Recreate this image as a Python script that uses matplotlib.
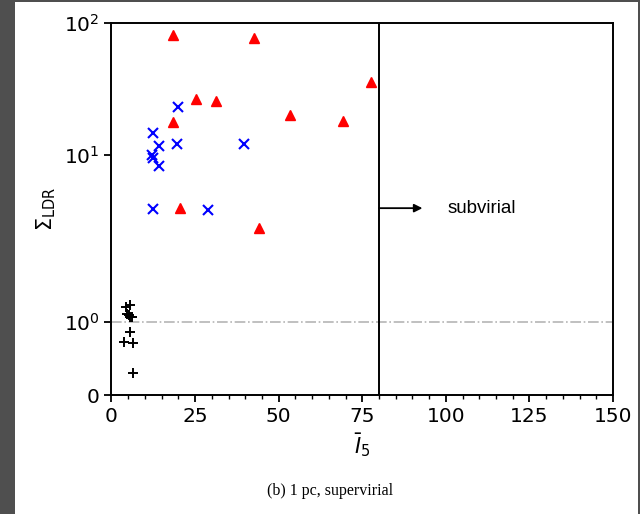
import numpy as np
import matplotlib
matplotlib.use('Agg')
import matplotlib.pyplot as plt
from matplotlib.patches import Rectangle
from matplotlib.ticker import MultipleLocator, NullLocator

# red triangles
red_x = [18.5, 42.5, 77.7, 25.3, 31.4, 53.4, 69.3, 18.5, 20.5, 44.2]
red_y = [80.7, 76.2, 35.8, 26.4, 25.7, 20.1, 18.1, 17.8, 4.81, 3.63]
# blue crosses
blue_x = [20.0, 12.3, 19.7, 39.7, 14.3, 12.0, 12.5, 14.3, 12.3, 28.9]
blue_y = [22.9, 14.7, 12.1, 12.1, 11.6, 10.0, 9.56, 8.59, 4.76, 4.70]
# black pluses
black_x = [4.3, 5.5, 4.7, 5.1, 5.5, 6.0, 5.5, 3.7, 6.3, 6.3]
black_y = [1.23, 1.26, 1.12, 1.10, 1.07, 1.06, 0.855, 0.727, 0.705, 0.296]

yticks = [0, 1, 10, 100]
yticklabels = ['0', '$10^0$', '$10^1$', '$10^2$']

# linear below 1, then two log decades of unequal length
A1, A2 = 2.274, 1.805


def fwd(y):
    y = np.asarray(y, float)
    ly = np.log10(np.clip(y, 1e-12, None))
    return np.where(y <= 1, y, np.where(y <= 10, 1 + A1 * ly, 1 + A1 + A2 * (ly - 1)))


def inv(u):
    u = np.clip(np.asarray(u, float), -1e3, 20)
    return np.where(u <= 1, u, np.where(u <= 1 + A1, 10 ** ((u - 1) / A1),
                                        10 ** (1 + (u - 1 - A1) / A2)))


def main():
    fig = plt.figure(figsize=(6.4, 5.14), dpi=100)
    ax = fig.add_axes([0.1742, 0.2315, 0.7836, 0.7243])
    ax.set_yscale('function', functions=(fwd, inv))

    ax.axhline(1, color='#b5b5b5', lw=1.2, ls='-.', zorder=1)
    ax.axvline(80, color='black', lw=1.4, zorder=2)

    ax.plot(black_x, black_y, '+', color='black', ms=7, mew=1.4, ls='none')
    ax.plot(blue_x, blue_y, 'x', color='blue', ms=6.5, mew=1.5, ls='none')
    ax.plot(red_x, red_y, '^', color='red', ms=7, ls='none')

    ax.annotate('', xy=(93, 4.8), xytext=(80, 4.8),
                arrowprops=dict(arrowstyle='-|>', color='black', lw=1.3,
                                mutation_scale=12, shrinkA=0, shrinkB=0))
    ax.text(100.5, 4.8, 'subvirial', fontsize=13.5, family='Liberation Sans',
            va='center', ha='left')

    ax.set_xlim(0, 150)
    ax.set_ylim(0, 100)
    ax.set_xticks([0, 25, 50, 75, 100, 125, 150])
    ax.xaxis.set_minor_locator(MultipleLocator(5))
    ax.set_yticks(yticks)
    ax.set_yticklabels(yticklabels)
    ax.yaxis.set_minor_locator(NullLocator())
    ax.tick_params(which='major', labelsize=14.5, length=5, width=1.3)
    ax.tick_params(which='minor', length=3, width=1.0)
    for s in ax.spines.values():
        s.set_linewidth(1.4)

    ax.set_xlabel(r'$\bar{I}_5$', fontsize=15)
    ax.set_ylabel(r'$\Sigma_{\rm LDR}$', fontsize=15)

    fig.text(0.516, 0.044, '(b) 1 pc, supervirial', family='Liberation Serif',
             fontsize=11.5, ha='center', va='center')

    # screenshot frame
    fig.add_artist(Rectangle((0, 0), 15 / 640, 1, transform=fig.transFigure,
                             color='#4f4f4f', lw=0))
    fig.add_artist(Rectangle((0, 1 - 2 / 514), 1, 2 / 514, transform=fig.transFigure,
                             color='#4f4f4f', lw=0))
    fig.add_artist(Rectangle((1 - 2 / 640, 0), 2 / 640, 1, transform=fig.transFigure,
                             color='#4f4f4f', lw=0))

    fig.savefig('out.png', dpi=100)


if __name__ == '__main__':
    main()
